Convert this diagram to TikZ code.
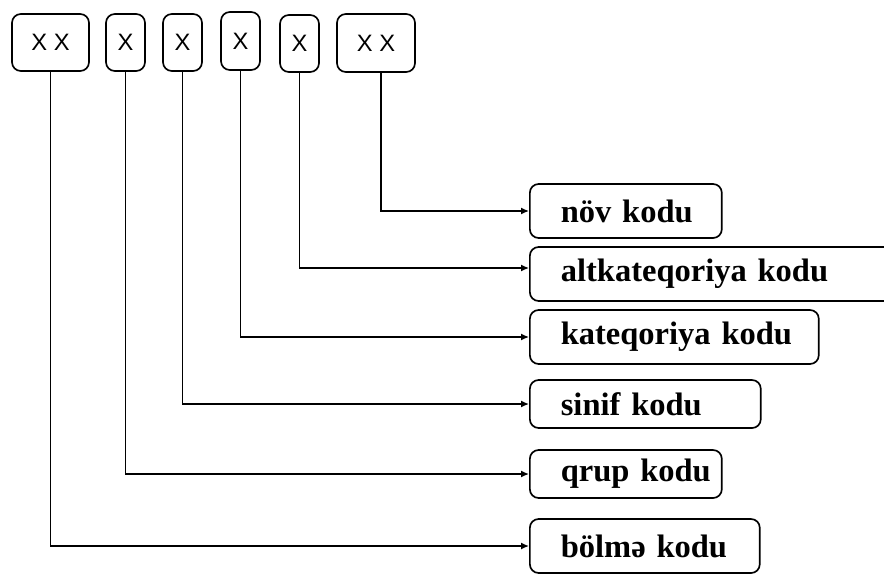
\documentclass[tikz,border=0pt]{standalone}
\usepackage{fontspec}
\setmainfont{Liberation Serif}
\newfontfamily\xfont{Liberation Sans}
\usetikzlibrary{arrows.meta}

\tikzset{
	digit/.style={shape=rectangle,draw=black,line width=0.95pt,rounded corners=5pt,
		minimum height=1.14cm,inner sep=0pt,font=\xfont\fontsize{13.5}{15}\selectfont},
	codebox/.style={shape=rectangle,draw=black,line width=0.95pt,rounded corners=5pt,
		anchor=west,inner xsep=0.62cm,inner ysep=0pt,align=left,
		font=\bfseries\fontsize{18.5}{20}\selectfont},
	link/.style={-{Latex[length=4.5pt,width=4pt]},line width=0.85pt}
}

\begin{document}
\begin{tikzpicture}[x=0.02cm,y=-0.02cm]
	\useasboundingbox (0,0) rectangle (884,574);
	
	\node[digit,minimum width=1.54cm] (b1) at (50.5, 42.5)  {X X};
	\node[digit,minimum width=0.78cm] (b2) at (125.5, 42.5) {X};
	\node[digit,minimum width=0.78cm] (b3) at (182.5, 42.5) {X};
	\node[digit,minimum width=0.78cm,minimum height=1.16cm] (b4) at (240.5, 41) {X};
	\node[digit,minimum width=0.78cm] (b5) at (299.5, 43.5) {X};
	\node[digit,minimum width=1.56cm,minimum height=1.16cm] (b6) at (376, 43) {X X};
	
	\node[codebox,text width=2.6cm,minimum height=1.08cm]  (nov)    at (529, 211) {\mbox{növ kodu}};
	\node[codebox,text width=6.2cm,minimum height=1.08cm]  (altkat) at (529, 274) {\mbox{altkateqoriya kodu}};
	\node[codebox,text width=4.54cm,minimum height=1.08cm] (kat)    at (529, 337) {\mbox{kateqoriya kodu}};
	\node[codebox,text width=3.38cm,minimum height=0.96cm] (sinif)  at (529, 404) {\mbox{sinif kodu}};
	\node[codebox,text width=2.6cm,minimum height=0.96cm]  (qrup)   at (529, 474) {\mbox{qrup kodu}};
	\node[codebox,text width=3.36cm,minimum height=1.08cm] (bolme)  at (529, 546) {\mbox{bölmə kodu}};
	
	\draw[link] ([xshift=0.1cm]b6.south) |- (nov.west);
	\draw[link] (b5.south) |- ([yshift=0.12cm]altkat.west);
	\draw[link] (b4.south) |- (kat.west);
	\draw[link] (b3.south) |- (sinif.west);
	\draw[link] (b2.south) |- (qrup.west);
	\draw[link] (b1.south) |- (bolme.west);

\end{tikzpicture}
\end{document}
